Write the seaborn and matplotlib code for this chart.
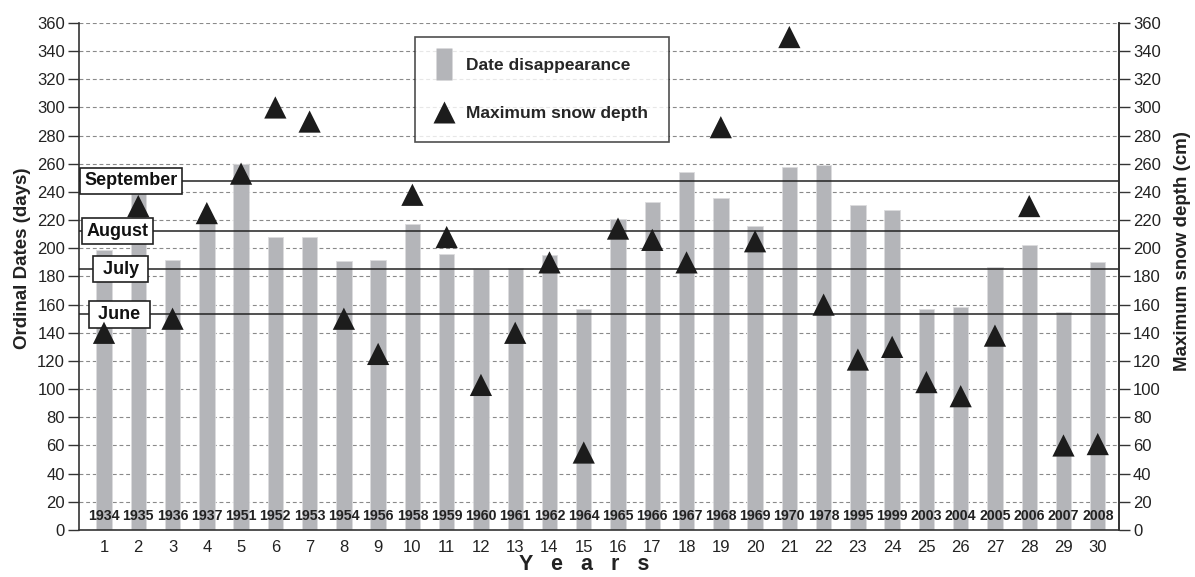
import matplotlib
matplotlib.use("Agg")
import matplotlib.pyplot as plt
import matplotlib.transforms as mtransforms
from matplotlib.lines import Line2D
from matplotlib.path import Path
import seaborn as sns
import pandas as pd

# Site-year index, calendar year, snow disappearance date and peak depth
year_index = list(range(1, 31))
years = ["1934", "1935", "1936", "1937", "1951", "1952", "1953", "1954", "1956", "1958",
         "1959", "1960", "1961", "1962", "1964", "1965", "1966", "1967", "1968", "1969",
         "1970", "1978", "1995", "1999", "2003", "2004", "2005", "2006", "2007", "2008"]
disappearance_day = [199, 240, 192, 219, 260, 208, 208, 191, 192, 217,
                     196, 185, 186, 195, 157, 221, 233, 254, 236, 216,
                     258, 259, 231, 227, 157, 158, 187, 202, 155, 190]
max_snow_depth = [140, 230, 150, 225, 253, 300, 290, 150, 125, 238,
                  208, 103, 140, 190, 55, 214, 206, 190, 286, 205,
                  350, 160, 121, 130, 105, 95, 138, 230, 60, 61]

# First-of-month reference lines (ordinal day)
month_names = ["September", "August", " July ", " June "]
month_days = [248, 212, 185, 153]
month_box_x = [0.050, 0.037, 0.040, 0.039]

y_ticks = list(range(0, 361, 20))

sns.set_theme(style="white")
plt.rcParams["font.family"] = ["Liberation Sans", "DejaVu Sans"]

df = pd.DataFrame({
    "idx": [str(i) for i in year_index],
    "pos": [i - 1 for i in year_index],
    "day": disappearance_day,
    "depth": max_snow_depth,
})

fig = plt.figure(figsize=(11.95, 5.77), dpi=100)
ax = fig.add_axes([0.0661, 0.0815, 0.8703, 0.8787])

bar_color = "#b4b5b9"
sns.barplot(data=df, x="idx", y="day", order=df["idx"], color=bar_color,
            width=0.45, saturation=1, edgecolor="#dcdcde", linewidth=0.6,
            ax=ax, zorder=2)

ax.set_ylim(0, 360)
ax.set_xlim(-0.73, 29.62)
ax.set_yticks(y_ticks)
ax.set_axisbelow(True)
ax.yaxis.grid(True, linestyle=(0, (3.5, 2.5)), color="#8a8a8a", linewidth=0.8, zorder=0)
ax.xaxis.grid(False)

ax.spines["top"].set_visible(False)
for side in ["left", "bottom", "right"]:
    ax.spines[side].set_color("#333333")
    ax.spines[side].set_linewidth(1.2)

ax.tick_params(axis="y", which="major", direction="out", length=8, width=1,
               color="#333333", labelsize=12, labelcolor="#222222", pad=2, left=True)
ax.tick_params(axis="x", length=0, labelsize=12, labelcolor="#222222", pad=7)
ax.set_xlabel("")
ax.set_ylabel("Ordinal Dates (days)", fontsize=13.5, fontweight="bold",
              color="#222222")
ax.yaxis.set_label_coords(-0.046, 0.535)

# Calendar year under each bar
for p, yr in zip(df["pos"], years):
    ax.text(p, 10, yr, ha="center", va="center", fontsize=10.2, fontweight="bold",
            color="#222222", zorder=4)

# Month reference lines with boxed labels
blend = mtransforms.blended_transform_factory(ax.transAxes, ax.transData)
for name, day, bx in zip(month_names, month_days, month_box_x):
    ax.axhline(day, color="#222222", linewidth=1.1, zorder=3)
    ax.text(bx, day, name, transform=blend, ha="center", va="center",
            fontsize=13, fontweight="bold", color="#111111", zorder=5,
            bbox=dict(boxstyle="square,pad=0.25", facecolor="white",
                      edgecolor="#222222", linewidth=1.2))

# Snow depth on the secondary axis
ax2 = ax.twinx()
sns.scatterplot(data=df, x="pos", y="depth", marker="^", s=16 ** 2,
                color="#1c1c1c", edgecolor="none", ax=ax2, zorder=6, legend=False)
ax2.set_ylim(0, 360)
ax2.set_xlim(-0.73, 29.62)
ax2.set_yticks(y_ticks)
ax2.grid(False)
ax2.spines["top"].set_visible(False)
ax2.spines["right"].set_color("#333333")
ax2.spines["right"].set_linewidth(1.2)
ax2.spines["left"].set_visible(False)
ax2.spines["bottom"].set_visible(False)
ax2.tick_params(axis="y", direction="out", length=8, width=1, color="#333333",
                labelsize=12, labelcolor="#222222", pad=2, right=True)
ax2.set_ylabel("Maximum snow depth (cm)", fontsize=13.5, fontweight="bold",
               color="#222222")
ax2.yaxis.set_label_coords(1.053, 0.55)

# Legend
rect_marker = Path([(-0.5, -1), (0.5, -1), (0.5, 1), (-0.5, 1), (-0.5, -1)])
handles = [
    Line2D([], [], linestyle="none", marker=rect_marker, markersize=22.5,
           markerfacecolor=bar_color, markeredgecolor="none"),
    Line2D([], [], linestyle="none", marker="^", markersize=16,
           markerfacecolor="#1c1c1c", markeredgecolor="none"),
]
leg = ax2.legend(handles, ["Date disappearance", "Maximum snow depth"],
                 loc="upper left", bbox_to_anchor=(0.323, 0.972), borderaxespad=0,
                 frameon=True, fancybox=False, edgecolor="#222222",
                 prop=dict(weight="bold", size=12.5),
                 handlelength=1.0, handletextpad=0.75, labelspacing=1.9,
                 borderpad=1.2)
leg.get_frame().set_linewidth(1.2)
leg.set_zorder(10)

fig.text(0.489, 0.004, "Y   e   a   r   s", ha="center", va="bottom",
         fontsize=15.5, fontweight="bold", color="#222222")

fig.savefig("out.png", dpi=100)
